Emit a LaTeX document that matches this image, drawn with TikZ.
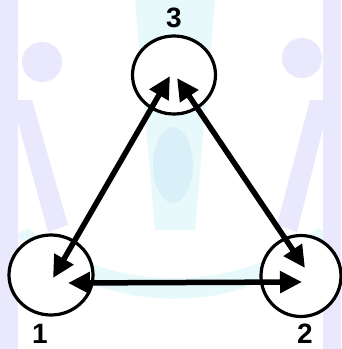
\documentclass[tikz,border=0pt]{standalone}
\usepackage{fontspec}
\setmainfont{Liberation Sans}
\usetikzlibrary{shapes.geometric,arrows.meta}
\definecolor{wmpurple}{RGB}{234,232,252}
\definecolor{wmcyan}{RGB}{232,249,252}
\definecolor{wmoval}{RGB}{218,240,248}
\tikzset{
  station/.style={ellipse,draw=black,fill=white,line width=3.2pt,inner sep=0pt},
  link/.style={line width=5.5pt,{Triangle[length=22pt,width=21pt]}-{Triangle[length=22pt,width=21pt]}},
  lbl/.style={font=\bfseries\fontsize{28pt}{30pt}\selectfont,inner sep=0pt}
}
\begin{document}
\begin{tikzpicture}[x=1pt,y=-1pt]
\useasboundingbox (0,0) rectangle (341,349);
\fill[white] (0,0) rectangle (341,349);
% faint watermark
\fill[wmcyan] (135,0) -- (215,0) -- (195,230) -- (155,230) -- cycle;
\fill[wmcyan] (15,235) .. controls (100,320) and (250,320) .. (330,235) -- (318,228) .. controls (240,295) and (110,295) .. (28,228) -- cycle;
\fill[wmpurple] (0,0) rectangle (18,349);
\fill[wmpurple] (42,62) circle (20);
\fill[wmpurple] (12,100) -- (32,100) -- (68,225) -- (48,232) -- cycle;
\fill[wmpurple] (323,0) rectangle (341,349);
\fill[wmpurple] (302,58) circle (20);
\fill[wmpurple] (330,100) -- (310,100) -- (277,225) -- (297,232) -- cycle;
\fill[wmoval] (173,165) ellipse (20 and 38);
% stations
\node[station,minimum width=83pt,minimum height=78pt] (c3) at (174,75) {};
\node[station,minimum width=84pt,minimum height=80pt] (c1) at (51,275) {};
\node[station,minimum width=80pt,minimum height=81pt] (c2) at (301,276) {};
% arrow end points inside the circles
\coordinate (t1a) at (53,278);
\coordinate (t1b) at (68,283);
\coordinate (t2a) at (302,282);
\coordinate (t2b) at (305,268);
\coordinate (t3a) at (170,76);
\coordinate (t3b) at (177,78);
\draw[link] (t1b) -- (t2a);
\draw[link] (t1a) -- (t3a);
\draw[link] (t3b) -- (t2b);
% labels
\node[lbl] (l3) at (174,18) {3};
\node[lbl] (l1) at (40,334) {1};
\node[lbl] (l2) at (305,333.5) {2};
\end{tikzpicture}
\end{document}
